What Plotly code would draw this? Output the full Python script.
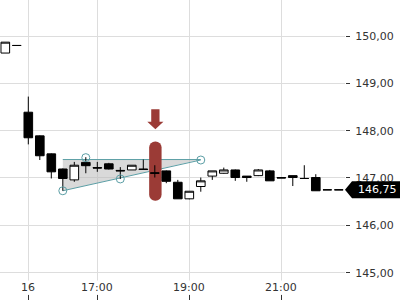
import plotly.graph_objects as go

# ---------------- data ----------------
idx = list(range(-2, 28))
opens = [149.64, 149.80, 148.39, 147.89, 147.51, 147.19, 146.96, 147.33, 147.22, 147.30,
         147.16, 147.17, 147.19, 147.11, 147.15, 146.91, 146.56, 146.82, 147.04, 147.10,
         147.17, 147.04, 147.05, 147.15, 147.01, 147.05, 146.99, 147.01, 146.75, 146.75]
highs = [149.87, 149.81, 148.72, 147.90, 147.52, 147.20, 147.34, 147.44, 147.34, 147.32,
         147.23, 147.27, 147.39, 147.27, 147.16, 146.96, 146.72, 147.01, 147.15, 147.22,
         147.18, 147.04, 147.19, 147.17, 147.02, 147.05, 147.27, 147.08, 146.75, 146.75]
lows = [149.64, 149.79, 147.71, 147.38, 146.99, 146.73, 146.92, 147.10, 147.13, 147.18,
        146.98, 147.17, 147.17, 147.01, 146.89, 146.56, 146.55, 146.71, 146.96, 147.09,
        146.94, 146.92, 147.04, 146.94, 147.00, 146.83, 146.99, 146.73, 146.75, 146.75]
closes = [149.87, 149.80, 147.85, 147.47, 147.13, 146.99, 147.27, 147.26, 147.21, 147.19,
          147.15, 147.27, 147.18, 147.10, 146.93, 146.56, 146.72, 146.94, 147.15, 147.17,
          147.01, 147.01, 147.17, 146.94, 147.00, 147.01, 146.99, 146.73, 146.75, 146.75]

x_tickvals = [0, 6, 14, 22]
x_ticktext = ["16", "17:00", "19:00", "21:00"]
y_tickvals = [145, 146, 147, 148, 149, 150]

# triangle pattern
pattern_x = [3, 5, 8, 15]
pattern_y = [146.73, 147.43, 146.98, 147.38]
resistance = 147.39

# signal marker
signal_x = 11.05
signal_low = 146.52
signal_high = 147.77
arrow_top = 148.45
arrow_neck = 148.19
arrow_tip = 148.03

last_price = 146.75

# ---------------- styles ----------------
FONT = "DejaVu Sans"
TEXT = "#333333"
GRID = "#dddddd"
TEAL = "#5b9ea5"
RED = "#9b3b36"

fig = go.Figure()

# red highlight bar (below candles)
fig.add_trace(go.Bar(
    x=[signal_x], base=[signal_low], y=[signal_high - signal_low], width=1.08,
    marker=dict(color=RED, cornerradius=6, line=dict(width=0)),
    hoverinfo="skip", showlegend=False))

fig.add_trace(go.Candlestick(
    x=idx, open=opens, high=highs, low=lows, close=closes,
    increasing=dict(line=dict(color="black", width=1), fillcolor="white"),
    decreasing=dict(line=dict(color="black", width=1), fillcolor="black"),
    whiskerwidth=0, showlegend=False, hoverinfo="skip"))

# pattern points
fig.add_trace(go.Scatter(
    x=pattern_x, y=pattern_y, mode="markers",
    marker=dict(symbol="circle-open", size=8, color=TEAL, line=dict(width=1, color=TEAL)),
    showlegend=False, hoverinfo="skip"))

# arrow
sw, hw = 0.36, 0.70
fig.add_trace(go.Scatter(
    x=[signal_x - sw, signal_x + sw, signal_x + sw, signal_x + hw, signal_x,
       signal_x - hw, signal_x - sw, signal_x - sw],
    y=[arrow_top, arrow_top, arrow_neck, arrow_neck, arrow_tip, arrow_neck, arrow_neck, arrow_top],
    mode="lines", fill="toself", fillcolor=RED, line=dict(width=0, color=RED),
    showlegend=False, hoverinfo="skip"))

shapes = []
x0, x1 = pattern_x[0], pattern_x[-1]
shapes.append(dict(type="path", xref="x", yref="y", layer="between",
                   path=f"M {x0},{resistance} L {x1},{resistance} L {x0},{pattern_y[0]} Z",
                   fillcolor="rgba(185,185,185,0.55)", line=dict(width=0)))
shapes.append(dict(type="line", xref="x", yref="y", layer="between",
                   x0=x0, y0=resistance, x1=x1, y1=resistance, line=dict(color=TEAL, width=1)))
shapes.append(dict(type="line", xref="x", yref="y", layer="between",
                   x0=x0, y0=pattern_y[0], x1=x1, y1=pattern_y[-1], line=dict(color=TEAL, width=1)))
# last price label
shapes.append(dict(type="path", xref="paper", yref="y", layer="above",
                   xsizemode="pixel", ysizemode="pixel", xanchor=1, yanchor=last_price,
                   path="M 0,0 L 7,8.5 L 56,8.5 L 56,-8.5 L 7,-8.5 Z",
                   fillcolor="black", line=dict(width=0)))

annotations = []
for v, t in zip(x_tickvals, x_ticktext):
    annotations.append(dict(x=v, y=13 / 300, xref="x", yref="paper", text=t, showarrow=False,
                            font=dict(family=FONT, size=11, color=TEXT), bgcolor="white",
                            xanchor="center", yanchor="middle", borderpad=0))
annotations.append(dict(x=1, y=last_price, xref="paper", yref="y",
                        text=f"{last_price:.2f}".replace(".", ","), showarrow=False,
                        xanchor="left", yanchor="middle", xshift=11,
                        font=dict(family=FONT, size=11, color="white")))

fig.update_layout(
    width=400, height=300, margin=dict(l=0, r=55, t=0, b=0),
    paper_bgcolor="white", plot_bgcolor="white",
    separators=",.", boxgap=0.25, boxgroupgap=0,
    font=dict(family=FONT, size=11, color=TEXT),
    shapes=shapes, annotations=annotations,
    xaxis=dict(range=[-2.461, 27.54], tickvals=x_tickvals, showticklabels=False,
               ticks="inside", ticklen=5, tickcolor=TEXT, showgrid=True, gridcolor=GRID,
               zeroline=False, showline=False, rangeslider=dict(visible=False), fixedrange=True),
    yaxis=dict(side="right", range=[144.422, 150.761], tickvals=y_tickvals, tickformat=".2f",
               ticks="outside", ticklen=4, tickcolor=TEXT, showgrid=True, gridcolor=GRID,
               zeroline=False, showline=False, fixedrange=True, ticklabelstandoff=3,
               tickfont=dict(family=FONT, size=11, color=TEXT)),
)

fig.write_html("out.html")
